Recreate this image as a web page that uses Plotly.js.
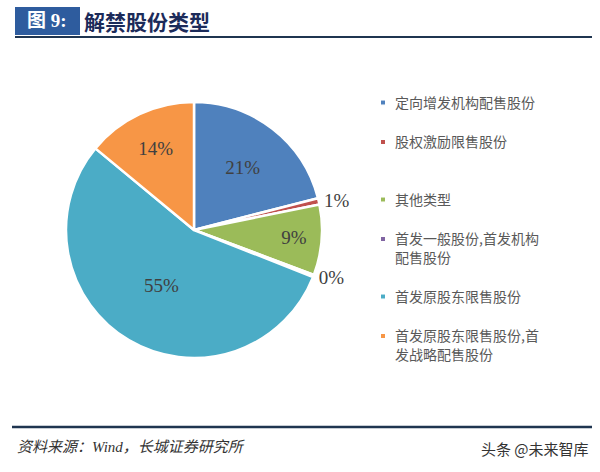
<!DOCTYPE html>
<html>
<head>
<meta charset="utf-8">
<script src="https://cdn.plot.ly/plotly-3.0.1.min.js"></script>
<style>
html,body{margin:0;padding:0;background:#fff;}
#chart{width:600px;height:472px;}
.legendpoints path.legendpie{transform:translate(28px,0px) scale(0.42);}
</style>
</head>
<body>
<div id="chart"></div>
<script>
// categories (legend order)
const categories = [
  '定向增发机构配售股份',
  '股权激励限售股份',
  '其他类型',
  '首发一般股份,首发机构<br>配售股份',
  '首发原股东限售股份',
  '首发原股东限售股份,首<br>发战略配售股份'
];
// share of unlocked shares (%)
const shares = [21.0, 0.8, 8.9, 0.3, 55.0, 14.0];
const sliceColors = ['#4f81bd', '#c0504d', '#9bbb59', '#8064a2', '#4bacc6', '#f79646'];
const textPositions = ['inside', 'outside', 'inside', 'outside', 'inside', 'inside'];
// extra blank lines used only to space legend entries
const legendPad = [1, 2, 1, 1, 1, 0];

const NB = '\u00a0';
const labels = categories.map((c, i) => {
  let s = c;
  for (let k = 0; k < legendPad[i]; k++) s += '<br>' + NB;
  return s;
});

const W = 600, H = 472;
const px = x => x / W;
const py = y => 1 - y / H;

const cx = 194, cy = 230, r = 128;

const trace = {
  type: 'pie',
  labels: labels,
  values: shares,
  sort: false,
  direction: 'clockwise',
  rotation: 0,
  marker: {colors: sliceColors, line: {color: '#ffffff', width: 2.5}},
  textinfo: 'percent',
  texttemplate: '%{percent:.0%}',
  textposition: textPositions,
  insidetextorientation: 'horizontal',
  textfont: {family: 'Liberation Serif, serif', size: 19, color: '#404040'},
  outsidetextfont: {family: 'Liberation Serif, serif', size: 19, color: '#404040'},
  hoverinfo: 'label+percent',
  domain: {x: [px(cx - r), px(cx + r)], y: [py(cy + r), py(cy - r)]},
  automargin: false
};

const layout = {
  width: W, height: H,
  margin: {l: 0, r: 0, t: 0, b: 0},
  paper_bgcolor: '#ffffff',
  showlegend: true,
  legend: {
    x: px(355), y: py(87), xanchor: 'left', yanchor: 'top',
    valign: 'top',
    font: {family: 'Noto Sans CJK SC, sans-serif', size: 14, color: '#595959'},
    bgcolor: 'rgba(0,0,0,0)'
  },
  shapes: [
    {type: 'rect', xref: 'paper', yref: 'paper', x0: px(15), x1: px(80), y0: py(35), y1: py(7),
     fillcolor: '#2e5c9e', line: {width: 0}},
    {type: 'line', xref: 'paper', yref: 'paper', x0: px(15), x1: px(592), y0: py(37), y1: py(37),
     line: {color: '#1f3550', width: 2}},
    {type: 'line', xref: 'paper', yref: 'paper', x0: px(12), x1: px(592), y0: py(427), y1: py(427),
     line: {color: '#1f3550', width: 2.5}}
  ],
  annotations: [
    {text: '<b>图 9:</b>', xref: 'paper', yref: 'paper', x: px(47), y: py(21), xanchor: 'center', yanchor: 'middle',
     showarrow: false, font: {family: 'Liberation Serif, Noto Sans CJK SC, serif', size: 19, color: '#ffffff'}},
    {text: '<b>解禁股份类型</b>', xref: 'paper', yref: 'paper', x: px(82), y: py(21), xanchor: 'left', yanchor: 'middle',
     showarrow: false, font: {family: 'Noto Sans CJK SC, sans-serif', size: 21, color: '#1c2b5a'}},
    {text: '<i>资料来源：Wind，长城证券研究所</i>', xref: 'paper', yref: 'paper', x: px(15), y: py(447), xanchor: 'left', yanchor: 'middle',
     showarrow: false, font: {family: 'Liberation Serif, Noto Sans CJK SC, serif', size: 15, color: '#333333'}},
    {text: '头条 @未来智库', xref: 'paper', yref: 'paper', x: px(591), y: py(448), xanchor: 'right', yanchor: 'middle',
     showarrow: false, font: {family: 'Noto Sans CJK SC, sans-serif', size: 15, color: '#333333'}}
  ]
};

Plotly.newPlot('chart', [trace], layout, {displayModeBar: false, staticPlot: true});
</script>
</body>
</html>
